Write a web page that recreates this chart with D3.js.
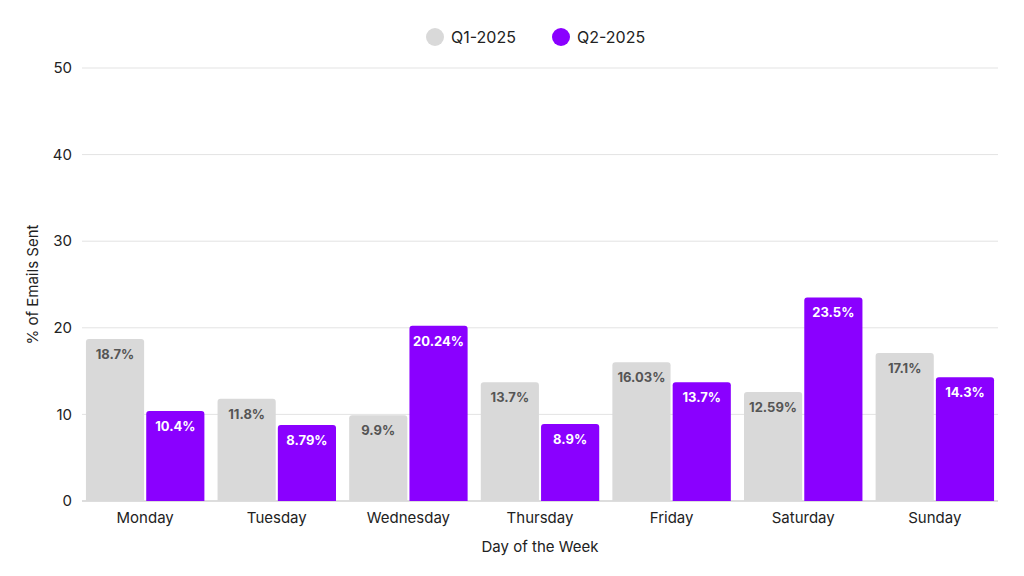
<!DOCTYPE html>
<html>
<head>
<meta charset="utf-8">
<script src="https://cdn.jsdelivr.net/npm/d3@7"></script>
<style>
  body { margin: 0; background: #fff; font-family: Inter, "Noto Sans", sans-serif; }
</style>
</head>
<body>
<div id="chart"></div>
<script>
// Chart data
var days = ["Monday", "Tuesday", "Wednesday", "Thursday", "Friday", "Saturday", "Sunday"];
var seriesNames = ["Q1-2025", "Q2-2025"];
var q1Values = [18.7, 11.8, 9.9, 13.7, 16.03, 12.59, 17.1];
var q2Values = [10.4, 8.79, 20.24, 8.9, 13.7, 23.5, 14.3];
var yTicks = [0, 10, 20, 30, 40, 50];

var colors = ["#d9d9d9", "#8a00ff"];
var labelColors = ["#555555", "#ffffff"];

var width = 1024, height = 576;
var margin = { top: 68, left: 82, right: 26, bottom: 75 };

var svg = d3.select("#chart").append("svg")
    .attr("width", width)
    .attr("height", height);

var x = d3.scaleBand()
    .domain(days)
    .range([margin.left, width - margin.right])
    .paddingInner(0.1)
    .paddingOuter(0.03);

var xInner = d3.scaleBand()
    .domain(seriesNames)
    .range([0, x.bandwidth()])
    .paddingInner(0.035);

var y = d3.scaleLinear()
    .domain([0, 50])
    .range([height - margin.bottom, margin.top]);

// Gridlines
svg.append("g")
    .selectAll("line")
    .data(yTicks)
    .enter().append("line")
    .attr("x1", margin.left)
    .attr("x2", width - margin.right)
    .attr("y1", function(d) { return y(d); })
    .attr("y2", function(d) { return y(d); })
    .attr("stroke", function(d) { return d === 0 ? "#bbbbbb" : "#e3e3e3"; })
    .attr("stroke-width", 1);

// Y tick labels
svg.append("g")
    .selectAll("text")
    .data(yTicks)
    .enter().append("text")
    .attr("x", margin.left - 10)
    .attr("y", function(d) { return y(d); })
    .attr("dy", "0.35em")
    .attr("text-anchor", "end")
    .attr("font-size", 15)
    .attr("fill", "#222")
    .text(function(d) { return d; });

// Bars
var rows = days.map(function(day, i) {
    return { day: day, values: [q1Values[i], q2Values[i]] };
});

var groups = svg.append("g")
    .selectAll("g")
    .data(rows)
    .enter().append("g")
    .attr("transform", function(d) { return "translate(" + x(d.day) + ",0)"; });

groups.selectAll("path")
    .data(function(d) {
        return d.values.map(function(v, k) { return { name: seriesNames[k], value: v, k: k }; });
    })
    .enter().append("path")
    .attr("fill", function(d) { return colors[d.k]; })
    .attr("d", function(d) {
        var x0 = xInner(d.name), w = xInner.bandwidth();
        var y0 = y(d.value), y1 = y(0), r = 3;
        return "M" + x0 + "," + y1 + "V" + (y0 + r) + "Q" + x0 + "," + y0 + " " + (x0 + r) + "," + y0 +
            "H" + (x0 + w - r) + "Q" + (x0 + w) + "," + y0 + " " + (x0 + w) + "," + (y0 + r) + "V" + y1 + "Z";
    });

groups.selectAll("text")
    .data(function(d) {
        return d.values.map(function(v, k) { return { name: seriesNames[k], value: v, k: k }; });
    })
    .enter().append("text")
    .attr("x", function(d) { return xInner(d.name) + xInner.bandwidth() / 2; })
    .attr("y", function(d) { return y(d.value) + 20; })
    .attr("text-anchor", "middle")
    .attr("font-size", 13)
    .attr("font-weight", 700)
    .attr("fill", function(d) { return labelColors[d.k]; })
    .text(function(d) { return d.value + "%"; });

// X tick labels
svg.append("g")
    .selectAll("text")
    .data(days)
    .enter().append("text")
    .attr("x", function(d) { return x(d) + x.bandwidth() / 2; })
    .attr("y", height - margin.bottom + 22)
    .attr("text-anchor", "middle")
    .attr("font-size", 15)
    .attr("fill", "#222")
    .text(function(d) { return d; });

// Axis titles
svg.append("text")
    .attr("x", (margin.left + width - margin.right) / 2)
    .attr("y", 552)
    .attr("text-anchor", "middle")
    .attr("font-size", 15)
    .attr("fill", "#222")
    .text("Day of the Week");

svg.append("text")
    .attr("transform", "translate(38," + ((margin.top + height - margin.bottom) / 2) + ") rotate(-90)")
    .attr("text-anchor", "middle")
    .attr("font-size", 15)
    .attr("fill", "#222")
    .text("% of Emails Sent");

// Legend
var legendX = [435, 561];
var legend = svg.append("g")
    .selectAll("g")
    .data(seriesNames)
    .enter().append("g")
    .attr("transform", function(d, i) { return "translate(" + legendX[i] + ",37)"; });

legend.append("circle")
    .attr("r", 9)
    .attr("fill", function(d, i) { return colors[i]; });

legend.append("text")
    .attr("x", 16)
    .attr("dy", "0.35em")
    .attr("font-size", 16)
    .attr("fill", "#222")
    .text(function(d) { return d; });
</script>
</body>
</html>
